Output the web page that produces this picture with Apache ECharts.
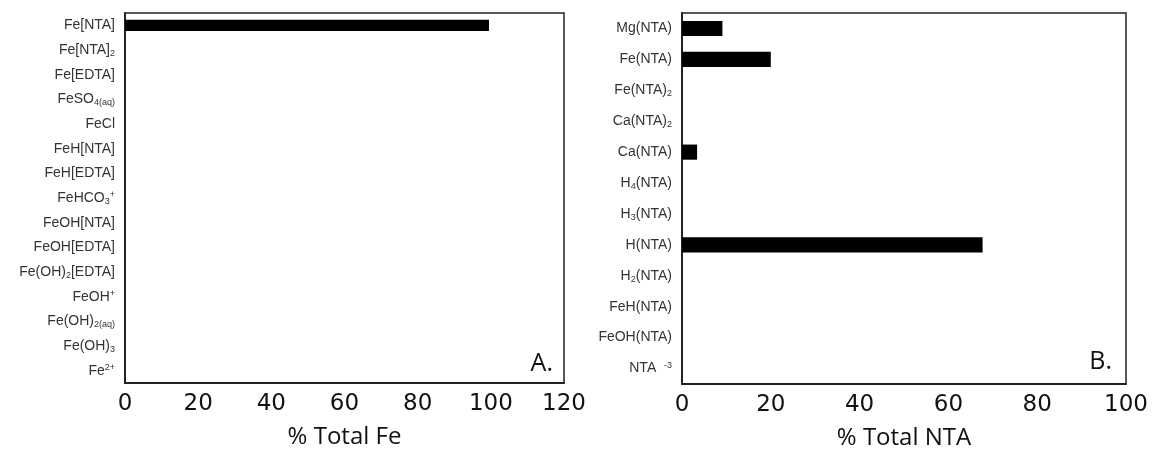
<!DOCTYPE html>
<html>
<head>
<meta charset="utf-8">
<script src="https://cdn.jsdelivr.net/npm/echarts@6/dist/echarts.min.js"></script>
<style>
  html, body { margin: 0; padding: 0; background: #fff; }
  #chart { width: 1155px; height: 452px; }
</style>
</head>
<body>
<div id="chart"></div>
<script>
// Panel A: iron speciation (rich markup: {s|..} subscript, {p|..} superscript)
var feSpecies = ['Fe[NTA]', 'Fe[NTA]{s|2}', 'Fe[EDTA]', 'FeSO{s|4(aq)}', 'FeCl', 'FeH[NTA]', 'FeH[EDTA]',
  'FeHCO{s|3}{p|+}', 'FeOH[NTA]', 'FeOH[EDTA]', 'Fe(OH){s|2}[EDTA]', 'FeOH{p|+}', 'Fe(OH){s|2(aq)}',
  'Fe(OH){s|3}', 'Fe{p|2+}'];
var feValues = [99.5, 0, 0, 0, 0, 0, 0, 0, 0, 0, 0, 0, 0, 0, 0];

// Panel B: NTA speciation
var ntaSpecies = ['Mg(NTA)', 'Fe(NTA)', 'Fe(NTA){s|2}', 'Ca(NTA){s|2}', 'Ca(NTA)', 'H{s|4}(NTA)',
  'H{s|3}(NTA)', 'H(NTA)', 'H{s|2}(NTA)', 'FeH(NTA)', 'FeOH(NTA)', 'NTA  {p|-3}'];
var ntaValues = [9.1, 20.0, 0, 0, 3.4, 0, 0, 67.7, 0, 0, 0, 0];

var feTicks = { min: 0, max: 120, interval: 20 };
var ntaTicks = { min: 0, max: 100, interval: 20 };

var ink = '#222';
var labelInk = '#333';

var chart = echarts.init(document.getElementById('chart'), null, { renderer: 'canvas' });

function catAxis(idx, data) {
  return {
    type: 'category',
    gridIndex: idx,
    data: data,
    inverse: true,
    axisLine: { show: true, lineStyle: { color: ink, width: 2 } },
    axisTick: { show: false },
    splitLine: { show: false },
    axisLabel: {
      color: labelInk,
      fontFamily: 'Liberation Sans',
      fontSize: 14,
      lineHeight: 16,
      margin: 10,
      formatter: function(v) { return v; },
      rich: {
        s: { fontSize: 9, fontFamily: 'Liberation Sans', color: labelInk, verticalAlign: 'bottom', lineHeight: 14 },
        p: { fontSize: 9, fontFamily: 'Liberation Sans', color: labelInk, verticalAlign: 'top', lineHeight: 12 }
      }
    }
  };
}

function valAxis(idx, ticks, name) {
  return {
    type: 'value',
    gridIndex: idx,
    min: ticks.min,
    max: ticks.max,
    interval: ticks.interval,
    name: name,
    nameLocation: 'middle',
    nameGap: 42,
    nameTextStyle: { color: '#111', fontFamily: 'Open Sans', fontSize: 24 },
    axisLine: { show: true, lineStyle: { color: ink, width: 2 } },
    axisTick: { show: false },
    splitLine: { show: false },
    axisLabel: { color: '#111', fontFamily: 'DejaVu Sans', fontSize: 23, margin: 10 }
  };
}

chart.setOption({
  animation: false,
  backgroundColor: '#fff',
  grid: [
    { left: 125, right: 591, top: 13, bottom: 69, outerBoundsMode: 'none', show: true, borderColor: ink, borderWidth: 1.5, backgroundColor: 'transparent' },
    { left: 682, right: 29, top: 13, bottom: 68, outerBoundsMode: 'none', show: true, borderColor: ink, borderWidth: 1.5, backgroundColor: 'transparent' }
  ],
  xAxis: [valAxis(0, feTicks, '% Total Fe'), valAxis(1, ntaTicks, '% Total NTA')],
  yAxis: [catAxis(0, feSpecies), catAxis(1, ntaSpecies)],
  series: [
    { type: 'bar', xAxisIndex: 0, yAxisIndex: 0, data: feValues, barWidth: '46%', itemStyle: { color: '#000' } },
    { type: 'bar', xAxisIndex: 1, yAxisIndex: 1, data: ntaValues, barWidth: '49%', itemStyle: { color: '#000' } }
  ],
  graphic: [
    { type: 'text', right: 1155 - 553, top: 351, style: { text: 'A.', fontFamily: 'Open Sans', fontSize: 25, fill: '#111' } },
    { type: 'text', right: 1155 - 1112, top: 349, style: { text: 'B.', fontFamily: 'Open Sans', fontSize: 25, fill: '#111' } }
  ]
});
window.addEventListener('resize', function() { chart.resize(); });
</script>
</body>
</html>
